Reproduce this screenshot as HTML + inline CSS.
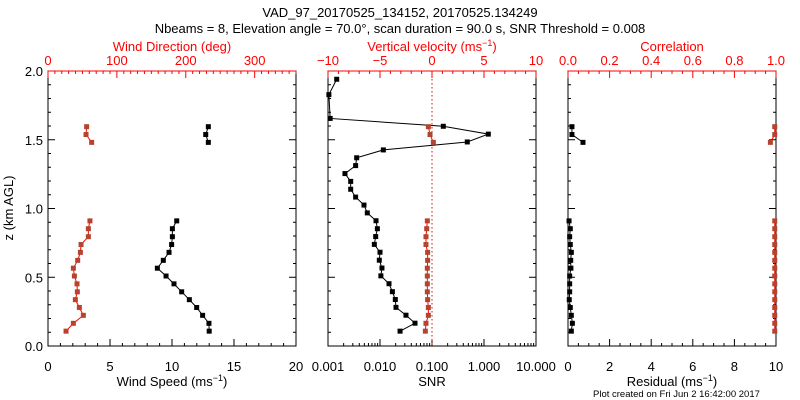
<!DOCTYPE html>
<html><head><meta charset="utf-8"><style>
body{margin:0;background:#fff;width:800px;height:400px;overflow:hidden}
svg{font-family:"Liberation Sans",sans-serif;display:block}
</style></head><body>
<svg id="c" width="800" height="400" xmlns="http://www.w3.org/2000/svg">
<text x="400" y="17" font-size="13" text-anchor="middle">VAD_97_20170525_134152, 20170525.134249</text>
<text x="400" y="33" font-size="13" text-anchor="middle">Nbeams = 8, Elevation angle = 70.0°, scan duration = 90.0 s, SNR Threshold = 0.008</text>
<text x="10" y="394" font-size="10" transform="translate(0,0)" x-dummy="" style="display:none"></text>
<text x="593" y="397" font-size="9.5">Plot created on Fri Jun  2 16:42:00 2017</text>
</svg>
<script>
// gate heights (km)
const hUpper=[1.595,1.538,1.481];
const hLower=[0.910,0.853,0.795,0.738,0.681,0.623,0.566,0.509,0.452,0.394,0.337,0.280,0.223,0.165,0.108];
const windSpeedUpper=[12.93,12.72,12.93];
const windSpeedLower=[10.38,10.03,10.03,9.97,9.76,9.30,8.82,9.52,10.16,10.78,11.40,11.99,12.47,12.98,13.00];
const windDirUpper=[56.1,55.2,63.4];
const windDirLower=[60.9,58.6,58.6,48.0,47.0,43.1,36.8,38.3,42.1,42.6,39.7,45.5,51.3,36.8,26.2];
const wUpper=[-0.35,-0.19,0.13];
const wLower=[-0.45,-0.51,-0.58,-0.58,-0.42,-0.42,-0.45,-0.45,-0.45,-0.45,-0.42,-0.35,-0.35,-0.58,-0.64];
const snrHeights=[1.940,1.828,1.655,1.598,1.541,1.484,1.426,1.369,1.312,1.254,1.197,1.140,1.083,1.025,0.968,0.911,0.853,0.796,0.739,0.682,0.624,0.567,0.510,0.453,0.395,0.338,0.281,0.224,0.166,0.108];
const snrValues=[0.00147,0.00104,0.0011,0.165,1.21,0.477,0.0116,0.00356,0.0034,0.00212,0.00273,0.00273,0.0034,0.00492,0.0057,0.00838,0.0089,0.00826,0.00778,0.0100,0.0097,0.0109,0.0104,0.0149,0.0173,0.0197,0.0203,0.0316,0.0471,0.0243];
const residUpper=[0.19,0.19,0.72];
const residLower=[0.05,0.11,0.08,0.11,0.16,0.13,0.14,0.08,0.08,0.08,0.06,0.11,0.16,0.21,0.16];
const corrUpper=[0.994,0.994,0.973];
const corrLower=[0.994,0.994,0.994,0.994,0.994,0.994,0.994,0.994,0.994,0.994,0.994,0.994,0.994,0.994,0.994];
const leftBottomTicks=["0","5","10","15","20"];
const leftTopTicks=["0","100","200","300"];
const midBottomTicks=["0.001","0.010","0.100","1.000","10.000"];
const midTopTicks=["\u221210","\u22125","0","5","10"];
const rightBottomTicks=["0","2","4","6","8","10"];
const rightTopTicks=["0.0","0.2","0.4","0.6","0.8","1.0"];
const yTicks=["0.0","0.5","1.0","1.5","2.0"];

const NS="http://www.w3.org/2000/svg";
const svg=document.getElementById('c');
const T=71,B=346;
const yS=h=>B-(h/2)*(B-T);
const RED="#ff0000",MRK="#b5432d";
function el(tag,attrs,parent){const e=document.createElementNS(NS,tag);for(const k in attrs)e.setAttribute(k,attrs[k]);(parent||svg).appendChild(e);return e;}
function txt(x,y,s,attrs){const e=el('text',Object.assign({x:x,y:y,'font-size':13,'text-anchor':'middle'},attrs||{}));e.textContent=s;return e;}

const panels=[{x0:48,x1:296,name:'wind'},{x0:328,x1:536,name:'snr'},{x0:568,x1:776,name:'residual'}];
panels.forEach(p=>{
  const r=el('rect',{x:p.x0,y:T,width:p.x1-p.x0,height:B-T,fill:'none',stroke:'#000','stroke-width':1});
  
  
  // y ticks both sides
  for(let i=0;i<=20;i++){const y=yS(i/10);const L=i%5==0?7:3;
    el('line',{x1:p.x0,x2:p.x0+L,y1:y,y2:y,stroke:'#000'});
    el('line',{x1:p.x1,x2:p.x1-L,y1:y,y2:y,stroke:'#000'});}
});
yTicks.forEach((s,i)=>{const t=txt(43,yS(i*0.5)+5,s,{'text-anchor':'end'});
  
  });
const yl=txt(0,0,'z (km AGL)',{transform:'translate(13,208) rotate(-90)'});



function linAxis(p,min,max,major,minor,labels,top,color,nameBase){
  const sx=v=>p.x0+(v-min)/(max-min)*(p.x1-p.x0);
  const n=Math.round((max-min)/minor);
  for(let i=0;i<=n;i++){const v=min+i*minor;const isMaj=Math.abs(((v-min)/major)-Math.round((v-min)/major))<1e-6;const L=isMaj?7:3;const x=sx(v);
    if(top)el('line',{x1:x,x2:x,y1:T,y2:T+L,stroke:color});else el('line',{x1:x,x2:x,y1:B,y2:B-L,stroke:color});}
  labels.forEach((s,i)=>{const t=txt(sx(min+i*major),top?65:371,s,{fill:color});
    
    });
  if(top){el('line',{x1:p.x0,x2:p.x1,y1:T,y2:T,stroke:color});}
  return sx;
}
const P0=panels[0],P1=panels[1],P2=panels[2];
const sxSpeed=linAxis(P0,0,20,5,1,leftBottomTicks,false,'#000','wind-speed');
const sxDir=linAxis(P0,0,360,100,10,leftTopTicks,true,RED,'wind-direction');
const sxW=linAxis(P1,-10,10,5,1,midTopTicks,true,RED,'vertical-velocity');
const sxRes=linAxis(P2,0,10,2,0.5,rightBottomTicks,false,'#000','residual');
const sxCorr=linAxis(P2,0,1,0.2,0.05,rightTopTicks,true,RED,'correlation');
// log axis
const sxSnr=v=>P1.x0+(Math.log10(v)+3)/4*(P1.x1-P1.x0);
for(let d=-3;d<1;d++){for(let m=1;m<=9;m++){const x=sxSnr(m*Math.pow(10,d));el('line',{x1:x,x2:x,y1:B,y2:B-(m==1?7:3),stroke:'#000'});}}
midBottomTicks.forEach((s,i)=>{const t=txt(sxSnr(Math.pow(10,i-3)),371,s);
  
  });

function title(x,y,html,color,name){const t=el('text',{x:x,y:y,'font-size':13,'text-anchor':'middle',fill:color});t.innerHTML=html;
  
  }
title(172,51,'Wind Direction (deg)',RED,'wind-direction-title');
title(432,51,'Vertical velocity (ms<tspan dy="-5" font-size="9">\u22121</tspan><tspan dy="5">)</tspan>',RED,'vertical-velocity-title');
title(672,51,'Correlation',RED,'correlation-title');
title(172,386,'Wind Speed (ms<tspan dy="-5" font-size="9">\u22121</tspan><tspan dy="5">)</tspan>','#000','wind-speed-title');
title(432,386,'SNR','#000','snr-title');
title(672,386,'Residual (ms<tspan dy="-5" font-size="9">\u22121</tspan><tspan dy="5">)</tspan>','#000','residual-title');

// zero line
const z=el('line',{x1:sxW(0),x2:sxW(0),y1:T,y2:B,stroke:RED,'stroke-dasharray':'1.5,2.5'});



function series(xs,hs,sx,lineCol,mCol,name){
  const g=el('g',{});
  
  
  const pts=xs.map((v,i)=>[sx(v),yS(hs[i])]);
  el('polyline',{points:pts.map(p=>p.join(',')).join(' '),fill:'none',stroke:lineCol,'stroke-width':1},g);
  pts.forEach(p=>{const m=el('rect',{x:p[0]-2.5,y:p[1]-2.5,width:5,height:5,fill:mCol},g);
    
    });
}
series(windSpeedUpper,hUpper,sxSpeed,'#000','#000','wind-speed-upper');
series(windSpeedLower,hLower,sxSpeed,'#000','#000','wind-speed-lower');
series(windDirUpper,hUpper,sxDir,RED,MRK,'wind-direction-upper');
series(windDirLower,hLower,sxDir,RED,MRK,'wind-direction-lower');
series(snrValues,snrHeights,sxSnr,'#000','#000','snr-series');
series(wUpper,hUpper,sxW,RED,MRK,'vertical-velocity-upper');
series(wLower,hLower,sxW,RED,MRK,'vertical-velocity-lower');
series(residUpper,hUpper,sxRes,'#000','#000','residual-upper');
series(residLower,hLower,sxRes,'#000','#000','residual-lower');
series(corrUpper,hUpper,sxCorr,RED,MRK,'correlation-upper');
series(corrLower,hLower,sxCorr,RED,MRK,'correlation-lower');
</script>
</body></html>
